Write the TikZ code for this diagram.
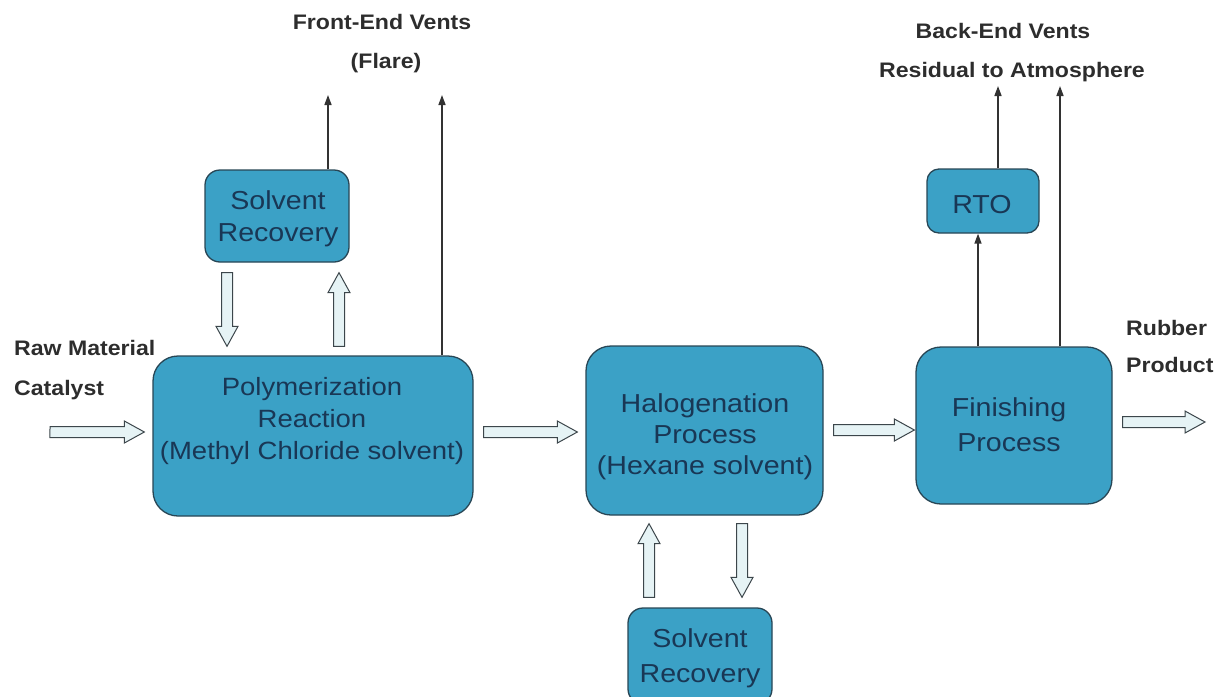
\documentclass[tikz,border=0pt]{standalone}
\usepackage{fontspec}
\setmainfont[FakeStretch=1.1]{Liberation Sans}
\usetikzlibrary{arrows.meta,calc}
\definecolor{boxfill}{RGB}{59,161,198}
\definecolor{boxline}{RGB}{40,70,85}
\definecolor{boxtext}{RGB}{25,55,85}
\definecolor{arrowfill}{RGB}{230,243,245}
\definecolor{arrowline}{RGB}{60,70,75}
\definecolor{labc}{RGB}{45,45,45}
\definecolor{ventc}{RGB}{50,50,50}
\begin{document}
\begin{tikzpicture}[x=1pt,y=-1pt,
  box/.style={draw=boxline, line width=1.3pt, fill=boxfill, rounded corners=#1, inner sep=0pt},
  box/.default=25pt,
  btext/.style={align=center, text=boxtext, inner sep=0pt},
  lab/.style={font=\bfseries\fontsize{21}{25}\selectfont, text=labc, inner sep=0pt},
  vent/.style={draw=ventc, line width=1.5pt, -{Triangle[length=10pt,width=7pt]}},
  fat/.style={draw=arrowline, fill=arrowfill, line width=1pt, to path={
    let \p1=(\tikztostart), \p2=(\tikztotarget),
        \n1={atan2(\y2-\y1,\x2-\x1)}, \n2={veclen(\x2-\x1,\y2-\y1)-20}
    in (\p1) ++({\n1+90}:5.5pt) -- ++(\n1:\n2) -- ++({\n1+90}:5.5pt) -- (\p2)
       -- ++({\n1+208.81}:22.83pt) -- ++({\n1+90}:5.5pt) -- ++({\n1+180}:\n2) -- cycle}}
]
\useasboundingbox (0,0) rectangle (1222,696);
\clip (0,0) rectangle (1222,696);

% boxes
\node[box=15pt, minimum width=144pt, minimum height=92pt] (sr1) at (277,216) {};
\node[box, minimum width=320pt, minimum height=160pt] (poly) at (313,436) {};
\node[box, minimum width=237pt, minimum height=169pt] (hal) at (704.5,430.5) {};
\node[box=15pt, minimum width=144pt, minimum height=96pt] (sr2) at (700,656) {};
\node[box, minimum width=196pt, minimum height=157pt] (fin) at (1014,425.5) {};
\node[box=12pt, minimum width=112pt, minimum height=64pt] (rto) at (983,201) {};

% box texts
\node[btext, font=\fontsize{26}{32}\selectfont] (sr1t) at (278,219) {Solvent\\Recovery};
\node[btext, font=\fontsize{25}{32}\selectfont] (polyt) at (312,421.5) {Polymerization\\Reaction\\(Methyl Chloride solvent)};
\node[btext, font=\fontsize{26}{31}\selectfont] (halt) at (705,437) {Halogenation\\Process\\(Hexane solvent)};
\node[btext, font=\fontsize{26}{35}\selectfont] (sr2t) at (700,658.5) {Solvent\\Recovery};
\node[btext, font=\fontsize{26}{35}\selectfont] (fint) at (1009,425) {Finishing\\Process};
\node[btext, font=\fontsize{26}{30}\selectfont, anchor=base] (rtot) at (982,213) {RTO};

% labels
\node[lab, anchor=base] (fev) at (382,29) {Front-End Vents};
\node[lab, anchor=base] (flare) at (386,68) {(Flare)};
\node[lab, anchor=base] (bev) at (1003,38) {Back-End Vents};
\node[lab, anchor=base] (resid) at (1012,77) {Residual to Atmosphere};
\node[lab, anchor=base west] (raw) at (14,355) {Raw Material};
\node[lab, anchor=base west] (cat) at (14,395) {Catalyst};
\node[lab, anchor=base west] (rub) at (1126,335) {Rubber};
\node[lab, anchor=base west] (prod) at (1126,372) {Product};

% free ends
\coordinate (fe1) at (328,95);
\coordinate (fe2) at (442,95);
\coordinate (be1) at (998,86);
\coordinate (be2) at (1060,86);
\coordinate (rawin) at (50,432);
\coordinate (prodout) at (1205,422);

% thin vent arrows
\draw[vent] ([xshift=51pt]sr1.north) -- (fe1);
\draw[vent] ([xshift=129pt]poly.north) -- (fe2);
\draw[vent] ([xshift=-36pt]fin.north) -- ([xshift=-5pt]rto.south);
\draw[vent] ([xshift=15pt]rto.north) -- (be1);
\draw[vent] ([xshift=46pt]fin.north) -- (be2);

% block arrows
\draw[fat] (rawin) to ($(poly.west)+(-8,-4)$);
\draw[fat] ($(poly.east)+(10,-4)$) to ($(hal.west)+(-8,1.5)$);
\draw[fat] ($(hal.east)+(10,-0.5)$) to ($(fin.west)+(-1,4.5)$);
\draw[fat] ($(fin.east)+(10,-3.5)$) to (prodout);
\draw[fat] ($(sr1.south)+(-50,10)$) to ($(poly.north)+(-86,-9)$);
\draw[fat] ($(poly.north)+(26,-9)$) to ($(sr1.south)+(62,10)$);
\draw[fat] ($(sr2.north)+(-51,-10)$) to ($(hal.south)+(-55.5,8)$);
\draw[fat] ($(hal.south)+(37.5,8)$) to ($(sr2.north)+(42,-10)$);
\end{tikzpicture}
\end{document}
